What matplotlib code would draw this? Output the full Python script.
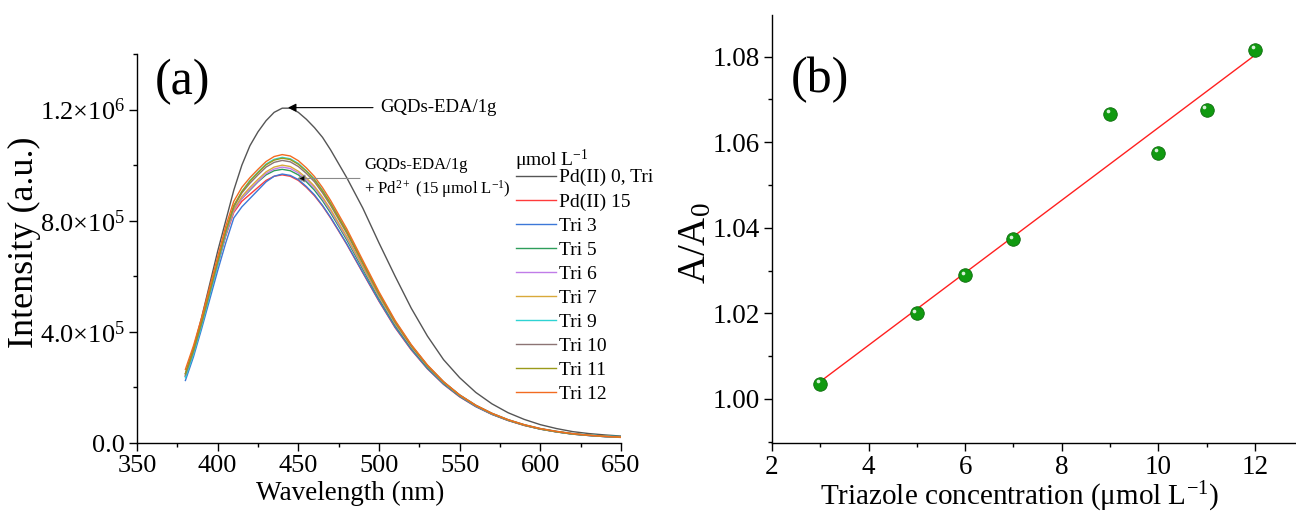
import matplotlib
matplotlib.use('Agg')
import matplotlib.pyplot as plt
import matplotlib.transforms as mtransforms
from matplotlib.ticker import FixedLocator, FixedFormatter, MultipleLocator
import numpy as np

plt.rcParams['font.family'] = ['Liberation Serif', 'DejaVu Serif']
plt.rcParams['mathtext.fontset'] = 'custom'
plt.rcParams['mathtext.rm'] = 'Liberation Serif'
plt.rcParams['mathtext.it'] = 'Liberation Serif:italic'
plt.rcParams['axes.linewidth'] = 1.0

# ---- panel (a): emission spectra (intensity in units of 1e6) ----
wavelength = [380, 385, 390, 395, 400, 405, 410, 415, 420, 425, 430, 435, 440, 445,
              450, 455, 460, 465, 470, 475, 480, 490, 500, 510, 520, 530, 540, 550,
              560, 570, 580, 590, 600, 610, 620, 630, 640, 650]

pd0 = [0.250, 0.340, 0.450, 0.570, 0.690, 0.800, 0.910, 1.000, 1.070, 1.120, 1.160, 1.190,
       1.205, 1.205, 1.190, 1.165, 1.135, 1.100, 1.055, 1.005, 0.955, 0.845, 0.720, 0.600,
       0.485, 0.385, 0.300, 0.235, 0.182, 0.141, 0.109, 0.085, 0.066, 0.052, 0.041, 0.034,
       0.029, 0.025]
pd15 = [0.240, 0.325, 0.425, 0.535, 0.640, 0.745, 0.830, 0.870, 0.895, 0.920, 0.945, 0.960,
        0.965, 0.960, 0.945, 0.920, 0.890, 0.853, 0.810, 0.763, 0.715, 0.612, 0.510, 0.415,
        0.335, 0.267, 0.211, 0.166, 0.131, 0.103, 0.081, 0.063, 0.050, 0.040, 0.032, 0.027,
        0.023, 0.020]
tri3 = [0.225, 0.310, 0.410, 0.515, 0.620, 0.720, 0.810, 0.850, 0.880, 0.910, 0.940, 0.960,
        0.968, 0.963, 0.948, 0.923, 0.893, 0.855, 0.812, 0.765, 0.717, 0.614, 0.512, 0.417,
        0.337, 0.268, 0.212, 0.167, 0.131, 0.103, 0.081, 0.064, 0.050, 0.040, 0.032, 0.027,
        0.023, 0.021]
tri5 = [0.240, 0.325, 0.425, 0.535, 0.645, 0.750, 0.840, 0.880, 0.910, 0.940, 0.965, 0.980,
        0.985, 0.980, 0.965, 0.940, 0.910, 0.872, 0.828, 0.780, 0.731, 0.625, 0.520, 0.424,
        0.342, 0.272, 0.215, 0.169, 0.133, 0.104, 0.082, 0.064, 0.050, 0.040, 0.032, 0.027,
        0.023, 0.021]
tri6 = [0.240, 0.325, 0.425, 0.535, 0.645, 0.750, 0.835, 0.880, 0.913, 0.942, 0.970, 0.986,
        0.993, 0.988, 0.972, 0.947, 0.918, 0.879, 0.835, 0.786, 0.738, 0.632, 0.526, 0.429,
        0.346, 0.276, 0.218, 0.171, 0.134, 0.105, 0.083, 0.065, 0.051, 0.041, 0.033, 0.028,
        0.024, 0.021]
tri7 = [0.245, 0.330, 0.430, 0.540, 0.648, 0.755, 0.840, 0.887, 0.920, 0.949, 0.976, 0.993,
        1.000, 0.995, 0.978, 0.954, 0.924, 0.885, 0.841, 0.792, 0.743, 0.636, 0.529, 0.431,
        0.348, 0.277, 0.218, 0.172, 0.135, 0.106, 0.083, 0.065, 0.051, 0.041, 0.033, 0.028,
        0.024, 0.021]
tri9 = [0.235, 0.320, 0.420, 0.530, 0.640, 0.755, 0.850, 0.905, 0.945, 0.975, 1.004, 1.021,
        1.028, 1.023, 1.006, 0.980, 0.950, 0.910, 0.864, 0.814, 0.763, 0.651, 0.539, 0.438,
        0.352, 0.279, 0.220, 0.173, 0.136, 0.107, 0.084, 0.066, 0.052, 0.042, 0.034, 0.029,
        0.025, 0.023]
tri10 = [0.245, 0.330, 0.430, 0.540, 0.650, 0.760, 0.850, 0.900, 0.935, 0.965, 0.993, 1.010,
         1.017, 1.012, 0.995, 0.970, 0.940, 0.900, 0.855, 0.805, 0.755, 0.645, 0.535, 0.435,
         0.350, 0.278, 0.219, 0.172, 0.135, 0.106, 0.083, 0.065, 0.051, 0.041, 0.033, 0.028,
         0.024, 0.021]
tri11 = [0.250, 0.335, 0.435, 0.545, 0.655, 0.765, 0.855, 0.905, 0.942, 0.973, 1.001, 1.018,
         1.025, 1.020, 1.003, 0.978, 0.947, 0.907, 0.862, 0.811, 0.761, 0.649, 0.538, 0.437,
         0.351, 0.279, 0.220, 0.172, 0.135, 0.106, 0.083, 0.065, 0.051, 0.041, 0.033, 0.028,
         0.024, 0.021]
tri12 = [0.265, 0.350, 0.450, 0.560, 0.670, 0.780, 0.870, 0.920, 0.955, 0.985, 1.013, 1.031,
         1.038, 1.033, 1.016, 0.990, 0.959, 0.919, 0.873, 0.822, 0.771, 0.657, 0.544, 0.441,
         0.354, 0.281, 0.221, 0.173, 0.136, 0.107, 0.084, 0.066, 0.052, 0.042, 0.034, 0.028,
         0.024, 0.021]

series = [pd0, pd15, tri3, tri5, tri6, tri7, tri9, tri10, tri11, tri12]
labels = ['Pd(II) 0, Tri', 'Pd(II) 15', 'Tri 3', 'Tri 5', 'Tri 6', 'Tri 7',
          'Tri 9', 'Tri 10', 'Tri 11', 'Tri 12']
colors = ['#555555', '#ff3b3b', '#3c78d8', '#2e9e5b', '#c07ce8', '#d9a93a',
          '#2ed3d3', '#8c7474', '#9a9a1a', '#f26b21']

ytick_vals = [0, 4e5, 8e5, 1.2e6]
ytick_labels = ['0.0', r'4.0$\times$10$^{5}$', r'8.0$\times$10$^{5}$', r'1.2$\times$10$^{6}$']

# ---- panel (b): A/A0 vs triazole ----
tri_conc = [3, 5, 6, 7, 9, 10, 11, 12]
ratio = [1.0035, 1.0200, 1.0289, 1.0373, 1.0666, 1.0575, 1.0676, 1.0816]

fig = plt.figure(figsize=(12.96, 5.22), dpi=100)
W, H = 1296, 522

ax1 = fig.add_axes([137 / W, 79 / H, 484 / W, 389 / H])
for y, lab, c in zip(series, labels, colors):
    ax1.plot(wavelength, np.array(y) * 1e6, color=c, lw=1.0, label=lab)

ax1.set_xlim(350, 650)
ax1.set_ylim(0, 1.4e6)
ax1.xaxis.set_major_locator(MultipleLocator(50))
ax1.xaxis.set_minor_locator(MultipleLocator(25))
ax1.yaxis.set_major_locator(FixedLocator(ytick_vals))
ax1.yaxis.set_major_formatter(FixedFormatter(ytick_labels))
ax1.yaxis.set_minor_locator(MultipleLocator(2e5))
for sp in ['top', 'right']:
    ax1.spines[sp].set_visible(False)
ax1.tick_params(which='major', direction='out', length=5.5, width=1.0, labelsize=19, pad=3)
ax1.tick_params(which='minor', direction='out', length=3, width=1.0)
ax1.set_xlabel('Wavelength (nm)', fontsize=19.5)
ax1.xaxis.set_label_coords(0.441, -0.098)
ax1.set_ylabel('Intensity (a.u.)', fontsize=26)
ax1.yaxis.set_label_coords(-0.198, 0.517)

ax1.annotate('GQDs-EDA/1g', xy=(443.6, 1.207e6), xytext=(500.6, 1.207e6),
             fontsize=13.5, va='center', ha='left',
             arrowprops=dict(arrowstyle='-|>', color='black', lw=0.8,
                             mutation_scale=12, shrinkA=3, shrinkB=0))
ax1.text(490.7, 0.952e6, 'GQDs-EDA/1g\n+ Pd$^{2+}$ (15 \u03bcmol L$^{-1}$)',
         fontsize=12, va='center', ha='left', linespacing=1.35)
ax1.annotate('', xy=(449.2, 0.952e6), xytext=(488.2, 0.952e6),
             arrowprops=dict(arrowstyle='-|>', ec='#8a8a8a', fc='black', lw=0.8,
                             mutation_scale=12, shrinkA=0, shrinkB=0))

leg = ax1.legend(loc='upper left', bbox_to_anchor=(0.783, 0.705), frameon=False,
                 fontsize=14, handlelength=2.05, handletextpad=0.15, labelspacing=0.33,
                 borderpad=0, borderaxespad=0)
ax1.text(0.781, (443 - 160) / 389, '\u03bcmol L$^{-1}$', transform=ax1.transAxes,
         fontsize=14, ha='left', va='center')

fig.text(182 / W, 1 - 82 / H, '(a)', fontsize=36, ha='center', va='center')

ax2 = fig.add_axes([772 / W, 79 / H, (W - 772) / W, 428 / H])
slope, intercept = np.polyfit(tri_conc, ratio, 1)
xfit = np.array([tri_conc[0], tri_conc[-1]])
ax2.plot(xfit, slope * xfit + intercept, color='#ff2020', lw=1.0, zorder=2)
ax2.scatter(tri_conc, ratio, s=95, color='#109a10', edgecolors='#0b6b0b',
            linewidths=0.6, zorder=3)
hl = mtransforms.offset_copy(ax2.transData, fig=fig, x=-2.5, y=2.5, units='dots')
ax2.scatter(tri_conc, ratio, s=7, color='#d8f0d8', transform=hl, zorder=4, lw=0)

ax2.set_xlim(2, 2 + (W - 772) / 48.3)
ax2.set_ylim(0.9897, 1.0897)
ax2.xaxis.set_major_locator(MultipleLocator(2))
ax2.xaxis.set_minor_locator(MultipleLocator(1))
ax2.yaxis.set_major_locator(MultipleLocator(0.02))
ax2.yaxis.set_minor_locator(MultipleLocator(0.01))
ax2.yaxis.set_major_formatter(plt.FormatStrFormatter('%.2f'))
for sp in ['top', 'right']:
    ax2.spines[sp].set_visible(False)
ax2.tick_params(which='major', direction='out', length=5.5, width=1.0, labelsize=19.5, pad=3)
ax2.tick_params(which='minor', direction='out', length=3, width=1.0)
ax2.set_xlabel('Triazole concentration (\u03bcmol L$^{-1}$)', fontsize=21)
ax2.xaxis.set_label_coords(0.473, -0.085)
ax2.set_ylabel('A/A$_0$', fontsize=28)
ax2.yaxis.set_label_coords(-0.11, 0.467)

fig.text(820 / W, 1 - 80 / H, '(b)', fontsize=36, ha='center', va='center')

fig.savefig('out.png', dpi=100)
